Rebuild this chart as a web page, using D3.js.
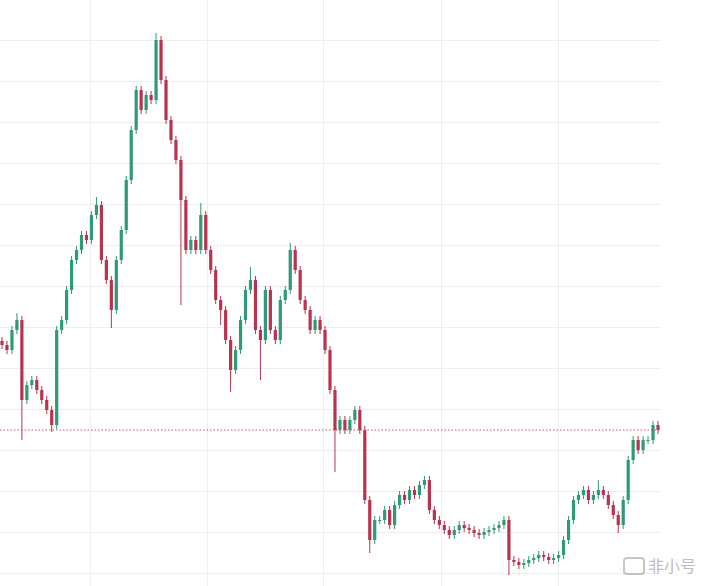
<!DOCTYPE html>
<html><head><meta charset="utf-8">
<script src="https://cdn.jsdelivr.net/npm/d3@7"></script>
<style>body{margin:0;background:#fff}</style>
</head><body>
<svg id="area" width="719" height="586"></svg>
<script>
// closing prices, one per candle (open = previous close)
const closes = [241,236,256,266,186,201,206,196,186,176,161,256,266,296,326,336,351,346,371,381,
326,306,276,326,356,406,456,496,476,491,486,546,506,466,446,426,386,336,346,336,
371,336,316,286,276,246,216,236,266,296,306,256,246,296,256,246,286,296,336,316,
286,276,256,266,256,236,196,156,166,156,166,176,156,86,46,66,66,76,61,81,
91,86,96,91,101,106,76,66,61,56,51,56,61,58,56,53,51,54,56,58,
61,66,26,24,21,23,26,28,31,29,26,28,31,46,66,86,91,96,86,91,
96,91,81,71,61,86,126,146,136,146,146,161,156];
// long wicks visible on the chart (candle index -> price)
const highs = {3:273,19:389,31:553,40:383,50:319,58:343,120:106};
const lows = {4:146,10:154,22:258,36:281,44:261,46:194,52:206,67:114,74:33,102:11,124:53};
const lastPrice = 156;
const xGrid = [90,207,323,441,558];

const W = 719, H = 586, plotW = 660;
const svg = d3.select("#area");
const x = d3.scaleLinear().domain([0, closes.length - 1]).range([2, plotW - 2]);
const y = d3.scaleLinear().domain([0, 586]).range([H, 0]);

// grid
const yTicks = d3.range(-1, 14).map(i => 40 + i * 41);
svg.append("g").selectAll("line").data(yTicks).enter().append("line")
  .attr("x1", 0).attr("x2", plotW).attr("y1", d => d + .5).attr("y2", d => d + .5)
  .attr("stroke", "#eeeeee");
svg.append("g").selectAll("line").data(xGrid).enter().append("line")
  .attr("x1", d => d + .5).attr("x2", d => d + .5).attr("y1", 0).attr("y2", H)
  .attr("stroke", "#eeeeee");

const candles = closes.map((c, i) => {
  const o = i ? closes[i - 1] : c + 4;
  const hi = Math.max(highs[i] || 0, Math.max(o, c) + 4);
  const lo = Math.min(lows[i] == null ? 1e9 : lows[i], Math.min(o, c) - 4);
  return {i, o, c, hi, lo};
});
const col = d => d.c >= d.o ? "#2e9a76" : "#b8344e";

const g = svg.append("g");
g.selectAll("line").data(candles).enter().append("line")
  .attr("x1", d => x(d.i)).attr("x2", d => x(d.i))
  .attr("y1", d => y(d.hi)).attr("y2", d => y(d.lo))
  .attr("stroke", col).attr("stroke-width", 1);
g.selectAll("rect").data(candles).enter().append("rect")
  .attr("x", d => x(d.i) - 1.6).attr("width", 3.2)
  .attr("y", d => y(Math.max(d.o, d.c)))
  .attr("height", d => Math.max(1, Math.abs(y(d.o) - y(d.c))))
  .attr("fill", col);

// last price line
svg.append("line").attr("x1", 0).attr("x2", plotW)
  .attr("y1", y(lastPrice)).attr("y2", y(lastPrice))
  .attr("stroke", "#c0506a").attr("stroke-dasharray", "1.5,2");

// watermark
const wm = svg.append("g").attr("opacity", .55);
wm.append("rect").attr("x", 624).attr("y", 558).attr("width", 20).attr("height", 16)
  .attr("rx", 3).attr("fill", "none").attr("stroke", "#999").attr("stroke-width", 2);
wm.append("text").attr("x", 648).attr("y", 572).attr("fill", "#888")
  .attr("font-family", "Noto Sans CJK SC").attr("font-size", 16).text("非小号");
</script>
</body></html>
